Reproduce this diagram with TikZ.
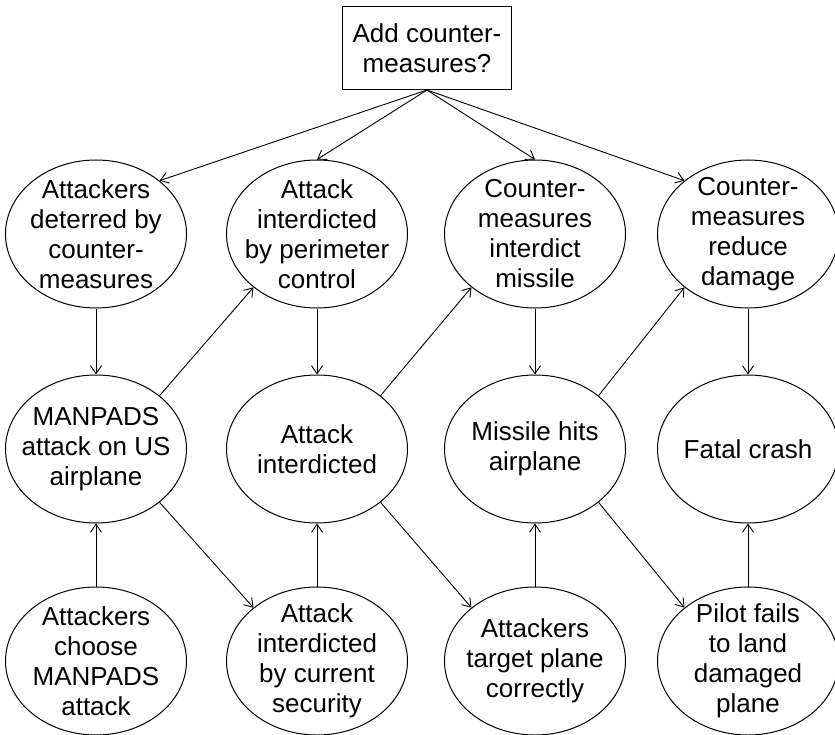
\documentclass[tikz,border=0pt]{standalone}
\usepackage{fontspec}
\setmainfont{Liberation Sans}
\usetikzlibrary{shapes.geometric,arrows.meta}
\begin{document}
\begin{tikzpicture}[x=1pt,y=-1pt,
  txt/.style={align=center,font=\fontsize{26}{30}\selectfont,inner sep=0pt},
  ev/.style={ellipse,draw,line width=1pt,minimum width=181pt,minimum height=148pt,inner sep=0pt},
  conn/.style={-{Straight Barb[length=8pt,width=11pt]},line width=0.9pt}]
\useasboundingbox (0,0) rectangle (835,735);
\node[draw,line width=1pt,minimum width=169pt,minimum height=83pt,txt] (top) at (427,48) {Add counter-\\measures?};
% row 1
\node[ev,label={[txt]center:{Attackers\\deterred by\\counter-\\measures}}] (r11) at (96,234) {};
\node[ev,label={[txt]center:{Attack\\interdicted\\by perimeter\\control}}] (r12) at (317,234) {};
\node[ev,label={[txt]center:{Counter-\\measures\\interdict\\missile}}] (r13) at (535,234) {};
\node[ev,label={[txt]center:{Counter-\\measures\\reduce\\damage}}] (r14) at (748,234) {};
% row 2
\node[ev,label={[txt]center:{MANPADS\\attack on US\\airplane}}] (r21) at (96,449) {};
\node[ev,label={[txt]center:{Attack\\interdicted}}] (r22) at (317,449) {};
\node[ev,label={[txt]center:{Missile hits\\airplane}}] (r23) at (535,449) {};
\node[ev,label={[txt]center:{Fatal crash}}] (r24) at (748,449) {};
% row 3
\node[ev,label={[txt]center:{Attackers\\choose\\MANPADS\\attack}}] (r31) at (96,661) {};
\node[ev,label={[txt]center:{Attack\\interdicted\\by current\\security}}] (r32) at (317,661) {};
\node[ev,label={[txt]center:{Attackers\\target plane\\correctly}}] (r33) at (535,661) {};
\node[ev,label={[txt]center:{Pilot fails\\to land\\damaged\\plane}}] (r34) at (748,661) {};
% top arrows
\draw[conn] (top.south) -- (r11.40);
\draw[conn] (top.south) -- (r12.north);
\draw[conn] (top.south) -- (r13.north);
\draw[conn] (top.south) -- (r14.140);
% vertical down
\draw[conn] (r11.south) -- (r21.north);
\draw[conn] (r12.south) -- (r22.north);
\draw[conn] (r13.south) -- (r23.north);
\draw[conn] (r14.south) -- (r24.north);
% vertical up
\draw[conn] (r31.north) -- (r21.south);
\draw[conn] (r32.north) -- (r22.south);
\draw[conn] (r33.north) -- (r23.south);
\draw[conn] (r34.north) -- (r24.south);
% diagonals up
\draw[conn] (r21.40) -- (r12.220);
\draw[conn] (r22.40) -- (r13.220);
\draw[conn] (r23.40) -- (r14.220);
% diagonals down
\draw[conn] (r21.320) -- (r32.140);
\draw[conn] (r22.320) -- (r33.140);
\draw[conn] (r23.320) -- (r34.140);
\end{tikzpicture}
\end{document}
